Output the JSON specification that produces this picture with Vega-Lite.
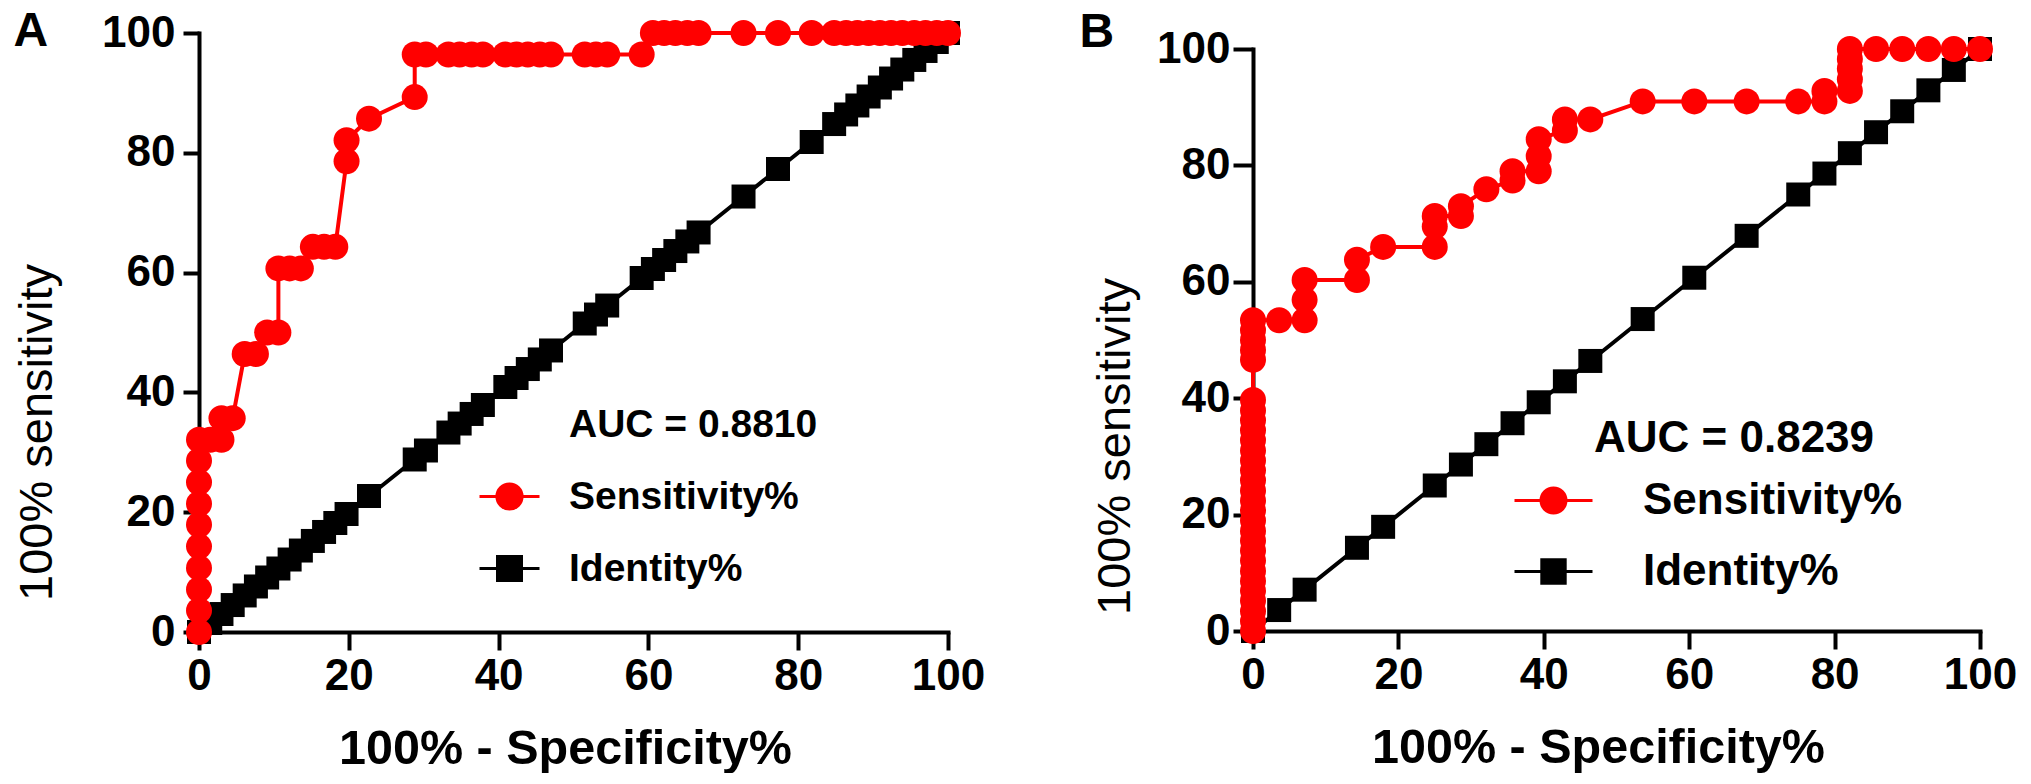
{
  "$schema": "https://vega.github.io/schema/vega-lite/v6.json",
  "background": "white",
  "padding": {"left": 13, "top": 8, "right": 0, "bottom": 0},
  "bounds": "flush",
  "spacing": 305,
  "config": {
    "view": {"stroke": null},
    "font": "Liberation Sans",
    "axis": {
      "grid": false,
      "domainColor": "black",
      "domainWidth": 4,
      "domainCap": "square",
      "tickColor": "black",
      "tickWidth": 4,
      "labelFont": "Liberation Sans",
      "labelFontSize": 44,
      "labelFontWeight": "bold",
      "labelColor": "black",
      "labelFlush": false,
      "labelOverlap": false,
      "titleFont": "Liberation Sans",
      "titleColor": "black"
    },
    "legend": {
      "orient": "none",
      "padding": 0,
      "labelFont": "Liberation Sans",
      "labelFontWeight": "bold",
      "labelColor": "black",
      "labelLimit": 600,
      "titleFont": "Liberation Sans",
      "titleFontWeight": "bold",
      "titleColor": "black",
      "titleLimit": 600,
      "symbolStrokeWidth": 3
    },
    "title": {
      "font": "Liberation Sans",
      "fontSize": 48,
      "fontWeight": "bold",
      "color": "black",
      "anchor": "start",
      "frame": "bounds",
      "baseline": "alphabetic"
    }
  },
  "datasets": {
    "rocA": [
      {"series": "Sensitivity%", "x": 0, "y": 0},
      {"series": "Sensitivity%", "x": 0, "y": 3.6},
      {"series": "Sensitivity%", "x": 0, "y": 7.1},
      {"series": "Sensitivity%", "x": 0, "y": 10.7},
      {"series": "Sensitivity%", "x": 0, "y": 14.3},
      {"series": "Sensitivity%", "x": 0, "y": 17.9},
      {"series": "Sensitivity%", "x": 0, "y": 21.4},
      {"series": "Sensitivity%", "x": 0, "y": 25.0},
      {"series": "Sensitivity%", "x": 0, "y": 28.6},
      {"series": "Sensitivity%", "x": 0, "y": 32.1},
      {"series": "Sensitivity%", "x": 1.5, "y": 32.1},
      {"series": "Sensitivity%", "x": 3.0, "y": 32.1},
      {"series": "Sensitivity%", "x": 3.0, "y": 35.7},
      {"series": "Sensitivity%", "x": 4.5, "y": 35.7},
      {"series": "Sensitivity%", "x": 6.1, "y": 46.4},
      {"series": "Sensitivity%", "x": 7.6, "y": 46.4},
      {"series": "Sensitivity%", "x": 9.1, "y": 50.0},
      {"series": "Sensitivity%", "x": 10.6, "y": 50.0},
      {"series": "Sensitivity%", "x": 10.6, "y": 60.7},
      {"series": "Sensitivity%", "x": 12.1, "y": 60.7},
      {"series": "Sensitivity%", "x": 13.6, "y": 60.7},
      {"series": "Sensitivity%", "x": 15.2, "y": 64.3},
      {"series": "Sensitivity%", "x": 16.7, "y": 64.3},
      {"series": "Sensitivity%", "x": 18.2, "y": 64.3},
      {"series": "Sensitivity%", "x": 19.7, "y": 78.6},
      {"series": "Sensitivity%", "x": 19.7, "y": 82.1},
      {"series": "Sensitivity%", "x": 22.7, "y": 85.7},
      {"series": "Sensitivity%", "x": 28.8, "y": 89.3},
      {"series": "Sensitivity%", "x": 28.8, "y": 96.4},
      {"series": "Sensitivity%", "x": 30.3, "y": 96.4},
      {"series": "Sensitivity%", "x": 33.3, "y": 96.4},
      {"series": "Sensitivity%", "x": 34.8, "y": 96.4},
      {"series": "Sensitivity%", "x": 36.4, "y": 96.4},
      {"series": "Sensitivity%", "x": 37.9, "y": 96.4},
      {"series": "Sensitivity%", "x": 40.9, "y": 96.4},
      {"series": "Sensitivity%", "x": 42.4, "y": 96.4},
      {"series": "Sensitivity%", "x": 43.9, "y": 96.4},
      {"series": "Sensitivity%", "x": 45.5, "y": 96.4},
      {"series": "Sensitivity%", "x": 47.0, "y": 96.4},
      {"series": "Sensitivity%", "x": 51.5, "y": 96.4},
      {"series": "Sensitivity%", "x": 53.0, "y": 96.4},
      {"series": "Sensitivity%", "x": 54.5, "y": 96.4},
      {"series": "Sensitivity%", "x": 59.1, "y": 96.4},
      {"series": "Sensitivity%", "x": 60.6, "y": 100},
      {"series": "Sensitivity%", "x": 62.1, "y": 100},
      {"series": "Sensitivity%", "x": 63.6, "y": 100},
      {"series": "Sensitivity%", "x": 65.2, "y": 100},
      {"series": "Sensitivity%", "x": 66.7, "y": 100},
      {"series": "Sensitivity%", "x": 72.7, "y": 100},
      {"series": "Sensitivity%", "x": 77.3, "y": 100},
      {"series": "Sensitivity%", "x": 81.8, "y": 100},
      {"series": "Sensitivity%", "x": 84.8, "y": 100},
      {"series": "Sensitivity%", "x": 86.4, "y": 100},
      {"series": "Sensitivity%", "x": 87.9, "y": 100},
      {"series": "Sensitivity%", "x": 89.4, "y": 100},
      {"series": "Sensitivity%", "x": 90.9, "y": 100},
      {"series": "Sensitivity%", "x": 92.4, "y": 100},
      {"series": "Sensitivity%", "x": 93.9, "y": 100},
      {"series": "Sensitivity%", "x": 95.5, "y": 100},
      {"series": "Sensitivity%", "x": 97.0, "y": 100},
      {"series": "Sensitivity%", "x": 98.5, "y": 100},
      {"series": "Sensitivity%", "x": 100, "y": 100},
      {"series": "Identity%", "x": 0, "y": 0},
      {"series": "Identity%", "x": 1.5, "y": 1.5},
      {"series": "Identity%", "x": 3.0, "y": 3.0},
      {"series": "Identity%", "x": 4.5, "y": 4.5},
      {"series": "Identity%", "x": 6.1, "y": 6.1},
      {"series": "Identity%", "x": 7.6, "y": 7.6},
      {"series": "Identity%", "x": 9.1, "y": 9.1},
      {"series": "Identity%", "x": 10.6, "y": 10.6},
      {"series": "Identity%", "x": 12.1, "y": 12.1},
      {"series": "Identity%", "x": 13.6, "y": 13.6},
      {"series": "Identity%", "x": 15.2, "y": 15.2},
      {"series": "Identity%", "x": 16.7, "y": 16.7},
      {"series": "Identity%", "x": 18.2, "y": 18.2},
      {"series": "Identity%", "x": 19.7, "y": 19.7},
      {"series": "Identity%", "x": 22.7, "y": 22.7},
      {"series": "Identity%", "x": 28.8, "y": 28.8},
      {"series": "Identity%", "x": 30.3, "y": 30.3},
      {"series": "Identity%", "x": 33.3, "y": 33.3},
      {"series": "Identity%", "x": 34.8, "y": 34.8},
      {"series": "Identity%", "x": 36.4, "y": 36.4},
      {"series": "Identity%", "x": 37.9, "y": 37.9},
      {"series": "Identity%", "x": 40.9, "y": 40.9},
      {"series": "Identity%", "x": 42.4, "y": 42.4},
      {"series": "Identity%", "x": 43.9, "y": 43.9},
      {"series": "Identity%", "x": 45.5, "y": 45.5},
      {"series": "Identity%", "x": 47.0, "y": 47.0},
      {"series": "Identity%", "x": 51.5, "y": 51.5},
      {"series": "Identity%", "x": 53.0, "y": 53.0},
      {"series": "Identity%", "x": 54.5, "y": 54.5},
      {"series": "Identity%", "x": 59.1, "y": 59.1},
      {"series": "Identity%", "x": 60.6, "y": 60.6},
      {"series": "Identity%", "x": 62.1, "y": 62.1},
      {"series": "Identity%", "x": 63.6, "y": 63.6},
      {"series": "Identity%", "x": 65.2, "y": 65.2},
      {"series": "Identity%", "x": 66.7, "y": 66.7},
      {"series": "Identity%", "x": 72.7, "y": 72.7},
      {"series": "Identity%", "x": 77.3, "y": 77.3},
      {"series": "Identity%", "x": 81.8, "y": 81.8},
      {"series": "Identity%", "x": 84.8, "y": 84.8},
      {"series": "Identity%", "x": 86.4, "y": 86.4},
      {"series": "Identity%", "x": 87.9, "y": 87.9},
      {"series": "Identity%", "x": 89.4, "y": 89.4},
      {"series": "Identity%", "x": 90.9, "y": 90.9},
      {"series": "Identity%", "x": 92.4, "y": 92.4},
      {"series": "Identity%", "x": 93.9, "y": 93.9},
      {"series": "Identity%", "x": 95.5, "y": 95.5},
      {"series": "Identity%", "x": 97.0, "y": 97.0},
      {"series": "Identity%", "x": 98.5, "y": 98.5},
      {"series": "Identity%", "x": 100, "y": 100}
    ],
    "rocB": [
      {"series": "Sensitivity%", "x": 0, "y": 0},
      {"series": "Sensitivity%", "x": 0, "y": 1.7},
      {"series": "Sensitivity%", "x": 0, "y": 3.4},
      {"series": "Sensitivity%", "x": 0, "y": 5.2},
      {"series": "Sensitivity%", "x": 0, "y": 6.9},
      {"series": "Sensitivity%", "x": 0, "y": 8.6},
      {"series": "Sensitivity%", "x": 0, "y": 10.3},
      {"series": "Sensitivity%", "x": 0, "y": 12.1},
      {"series": "Sensitivity%", "x": 0, "y": 13.8},
      {"series": "Sensitivity%", "x": 0, "y": 15.5},
      {"series": "Sensitivity%", "x": 0, "y": 17.2},
      {"series": "Sensitivity%", "x": 0, "y": 19.0},
      {"series": "Sensitivity%", "x": 0, "y": 20.7},
      {"series": "Sensitivity%", "x": 0, "y": 22.4},
      {"series": "Sensitivity%", "x": 0, "y": 24.1},
      {"series": "Sensitivity%", "x": 0, "y": 25.9},
      {"series": "Sensitivity%", "x": 0, "y": 27.6},
      {"series": "Sensitivity%", "x": 0, "y": 29.3},
      {"series": "Sensitivity%", "x": 0, "y": 31.0},
      {"series": "Sensitivity%", "x": 0, "y": 32.8},
      {"series": "Sensitivity%", "x": 0, "y": 34.5},
      {"series": "Sensitivity%", "x": 0, "y": 36.2},
      {"series": "Sensitivity%", "x": 0, "y": 37.9},
      {"series": "Sensitivity%", "x": 0, "y": 39.7},
      {"series": "Sensitivity%", "x": 0, "y": 46.6},
      {"series": "Sensitivity%", "x": 0, "y": 48.3},
      {"series": "Sensitivity%", "x": 0, "y": 50.0},
      {"series": "Sensitivity%", "x": 0, "y": 51.7},
      {"series": "Sensitivity%", "x": 0, "y": 53.4},
      {"series": "Sensitivity%", "x": 3.6, "y": 53.4},
      {"series": "Sensitivity%", "x": 7.1, "y": 53.4},
      {"series": "Sensitivity%", "x": 7.1, "y": 56.9},
      {"series": "Sensitivity%", "x": 7.1, "y": 60.3},
      {"series": "Sensitivity%", "x": 14.3, "y": 60.3},
      {"series": "Sensitivity%", "x": 14.3, "y": 63.8},
      {"series": "Sensitivity%", "x": 17.9, "y": 66.0},
      {"series": "Sensitivity%", "x": 25.0, "y": 66.0},
      {"series": "Sensitivity%", "x": 25.0, "y": 69.5},
      {"series": "Sensitivity%", "x": 25.0, "y": 71.3},
      {"series": "Sensitivity%", "x": 28.6, "y": 71.3},
      {"series": "Sensitivity%", "x": 28.6, "y": 73.0},
      {"series": "Sensitivity%", "x": 32.1, "y": 75.9},
      {"series": "Sensitivity%", "x": 35.7, "y": 77.4},
      {"series": "Sensitivity%", "x": 35.7, "y": 79.0},
      {"series": "Sensitivity%", "x": 39.3, "y": 79.0},
      {"series": "Sensitivity%", "x": 39.3, "y": 81.6},
      {"series": "Sensitivity%", "x": 39.3, "y": 84.5},
      {"series": "Sensitivity%", "x": 42.9, "y": 86.0},
      {"series": "Sensitivity%", "x": 42.9, "y": 87.9},
      {"series": "Sensitivity%", "x": 46.4, "y": 87.9},
      {"series": "Sensitivity%", "x": 53.6, "y": 91.0},
      {"series": "Sensitivity%", "x": 60.7, "y": 91.0},
      {"series": "Sensitivity%", "x": 67.9, "y": 91.0},
      {"series": "Sensitivity%", "x": 75.0, "y": 91.0},
      {"series": "Sensitivity%", "x": 78.6, "y": 91.0},
      {"series": "Sensitivity%", "x": 78.6, "y": 92.8},
      {"series": "Sensitivity%", "x": 82.1, "y": 92.8},
      {"series": "Sensitivity%", "x": 82.1, "y": 94.8},
      {"series": "Sensitivity%", "x": 82.1, "y": 96.6},
      {"series": "Sensitivity%", "x": 82.1, "y": 98.3},
      {"series": "Sensitivity%", "x": 82.1, "y": 100},
      {"series": "Sensitivity%", "x": 85.7, "y": 100},
      {"series": "Sensitivity%", "x": 89.3, "y": 100},
      {"series": "Sensitivity%", "x": 92.9, "y": 100},
      {"series": "Sensitivity%", "x": 96.4, "y": 100},
      {"series": "Sensitivity%", "x": 100, "y": 100},
      {"series": "Identity%", "x": 0, "y": 0},
      {"series": "Identity%", "x": 3.6, "y": 3.6},
      {"series": "Identity%", "x": 7.1, "y": 7.1},
      {"series": "Identity%", "x": 14.3, "y": 14.3},
      {"series": "Identity%", "x": 17.9, "y": 17.9},
      {"series": "Identity%", "x": 25.0, "y": 25.0},
      {"series": "Identity%", "x": 28.6, "y": 28.6},
      {"series": "Identity%", "x": 32.1, "y": 32.1},
      {"series": "Identity%", "x": 35.7, "y": 35.7},
      {"series": "Identity%", "x": 39.3, "y": 39.3},
      {"series": "Identity%", "x": 42.9, "y": 42.9},
      {"series": "Identity%", "x": 46.4, "y": 46.4},
      {"series": "Identity%", "x": 53.6, "y": 53.6},
      {"series": "Identity%", "x": 60.7, "y": 60.7},
      {"series": "Identity%", "x": 67.9, "y": 67.9},
      {"series": "Identity%", "x": 75.0, "y": 75.0},
      {"series": "Identity%", "x": 78.6, "y": 78.6},
      {"series": "Identity%", "x": 82.1, "y": 82.1},
      {"series": "Identity%", "x": 85.7, "y": 85.7},
      {"series": "Identity%", "x": 89.3, "y": 89.3},
      {"series": "Identity%", "x": 92.9, "y": 92.9},
      {"series": "Identity%", "x": 96.4, "y": 96.4},
      {"series": "Identity%", "x": 100, "y": 100}
    ]
  },
  "resolve": {
    "scale": {"x": "independent", "y": "independent", "color": "independent"},
    "axis": {"x": "independent", "y": "independent"},
    "legend": {"color": "independent"}
  },
  "hconcat": [
    {
      "width": 749,
      "height": 599,
      "title": {"text": "A", "offset": -45},
      "data": {"name": "rocA"},
      "encoding": {
        "x": {
          "field": "x",
          "type": "quantitative",
          "scale": {"domain": [0, 100], "nice": false, "zero": false},
          "axis": {
            "values": [0, 20, 40, 60, 80, 100],
            "title": "100% - Specificity%",
            "tickSize": 18,
            "labelPadding": 4,
            "titleFontSize": 48.5,
            "titleFontWeight": "bold",
            "titlePadding": 27,
            "titleX": 366
          }
        },
        "y": {
          "field": "y",
          "type": "quantitative",
          "scale": {"domain": [0, 100], "nice": false, "zero": false},
          "axis": {
            "values": [0, 20, 40, 60, 80, 100],
            "title": "100% sensitivity",
            "tickSize": 16,
            "labelPadding": 8,
            "titleFontSize": 47,
            "titleFontWeight": "normal",
            "titlePadding": 40,
            "titleY": 399
          }
        },
        "color": {
          "field": "series",
          "type": "nominal",
          "scale": {"domain": ["Sensitivity%", "Identity%"], "range": ["#ff0000", "#000000"]},
          "legend": {
            "title": "AUC = 0.8810",
            "legendX": 279,
            "legendY": 373,
            "titleFontSize": 39,
            "labelFontSize": 39,
            "symbolSize": 3600,
            "labelOffset": 28,
            "titlePadding": 20,
            "rowPadding": 20,
            "encode": {
              "title": {"update": {"dx": {"value": 91}}},
              "symbols": {
                "update": {
                  "shape": {"signal": "datum.value == 'Sensitivity%' ? 'M-1,0H1M0.42,0A0.42,0.42,0,1,1,-0.42,0A0.42,0.42,0,1,1,0.42,0Z' : 'M-1,0H1M-0.4,-0.4H0.4V0.4H-0.4Z'"},
                  "fill": {"signal": "datum.value == 'Sensitivity%' ? '#ff0000' : '#000000'"},
                  "stroke": {"signal": "datum.value == 'Sensitivity%' ? '#ff0000' : '#000000'"},
                  "strokeWidth": {"value": 3},
                  "opacity": {"value": 1}
                }
              }
            }
          }
        }
      },
      "layer": [
        {
          "transform": [{"filter": "datum.series == 'Identity%'"}],
          "mark": {"type": "line", "strokeWidth": 4},
          "encoding": {"order": [{"field": "x", "type": "quantitative"}, {"field": "y", "type": "quantitative"}]}
        },
        {
          "transform": [{"filter": "datum.series == 'Identity%'"}],
          "mark": {"type": "square", "size": 576, "opacity": 1}
        },
        {
          "transform": [{"filter": "datum.series == 'Sensitivity%'"}],
          "mark": {"type": "line", "strokeWidth": 4},
          "encoding": {"order": [{"field": "x", "type": "quantitative"}, {"field": "y", "type": "quantitative"}]}
        },
        {
          "transform": [{"filter": "datum.series == 'Sensitivity%'"}],
          "mark": {"type": "circle", "size": 676, "opacity": 1}
        }
      ]
    },
    {
      "width": 727,
      "height": 598,
      "title": {"text": "B", "offset": -30, "dx": -12},
      "data": {"name": "rocB"},
      "encoding": {
        "x": {
          "field": "x",
          "type": "quantitative",
          "scale": {"domain": [0, 100], "nice": false, "zero": false},
          "axis": {
            "values": [0, 20, 40, 60, 80, 100],
            "title": "100% - Specificity%",
            "tickSize": 18,
            "labelPadding": 4,
            "titleFontSize": 48.5,
            "titleFontWeight": "bold",
            "titlePadding": 27,
            "titleX": 345
          }
        },
        "y": {
          "field": "y",
          "type": "quantitative",
          "scale": {"domain": [0, 100], "nice": false, "zero": false, "range": [598, 16]},
          "axis": {
            "values": [0, 20, 40, 60, 80, 100],
            "title": "100% sensitivity",
            "tickSize": 20,
            "labelPadding": 3,
            "titleFontSize": 47,
            "titleFontWeight": "normal",
            "titlePadding": 17,
            "titleY": 413
          }
        },
        "color": {
          "field": "series",
          "type": "nominal",
          "scale": {"domain": ["Sensitivity%", "Identity%"], "range": ["#ff0000", "#000000"]},
          "legend": {
            "title": "AUC = 0.8239",
            "legendX": 260,
            "legendY": 384,
            "titleFontSize": 44,
            "labelFontSize": 44,
            "symbolSize": 6084,
            "labelOffset": 49,
            "titlePadding": -1,
            "rowPadding": 8,
            "encode": {
              "title": {"update": {"dx": {"value": 81}}},
              "symbols": {
                "update": {
                  "shape": {"signal": "datum.value == 'Sensitivity%' ? 'M-1,0H1M0.32,0A0.32,0.32,0,1,1,-0.32,0A0.32,0.32,0,1,1,0.32,0Z' : 'M-1,0H1M-0.3,-0.3H0.3V0.3H-0.3Z'"},
                  "fill": {"signal": "datum.value == 'Sensitivity%' ? '#ff0000' : '#000000'"},
                  "stroke": {"signal": "datum.value == 'Sensitivity%' ? '#ff0000' : '#000000'"},
                  "strokeWidth": {"value": 3},
                  "opacity": {"value": 1}
                }
              }
            }
          }
        }
      },
      "layer": [
        {
          "transform": [{"filter": "datum.series == 'Identity%'"}],
          "mark": {"type": "line", "strokeWidth": 4},
          "encoding": {"order": [{"field": "x", "type": "quantitative"}, {"field": "y", "type": "quantitative"}]}
        },
        {
          "transform": [{"filter": "datum.series == 'Identity%'"}],
          "mark": {"type": "square", "size": 576, "opacity": 1}
        },
        {
          "transform": [{"filter": "datum.series == 'Sensitivity%'"}],
          "mark": {"type": "line", "strokeWidth": 4},
          "encoding": {"order": [{"field": "x", "type": "quantitative"}, {"field": "y", "type": "quantitative"}]}
        },
        {
          "transform": [{"filter": "datum.series == 'Sensitivity%'"}],
          "mark": {"type": "circle", "size": 676, "opacity": 1}
        }
      ]
    }
  ]
}
